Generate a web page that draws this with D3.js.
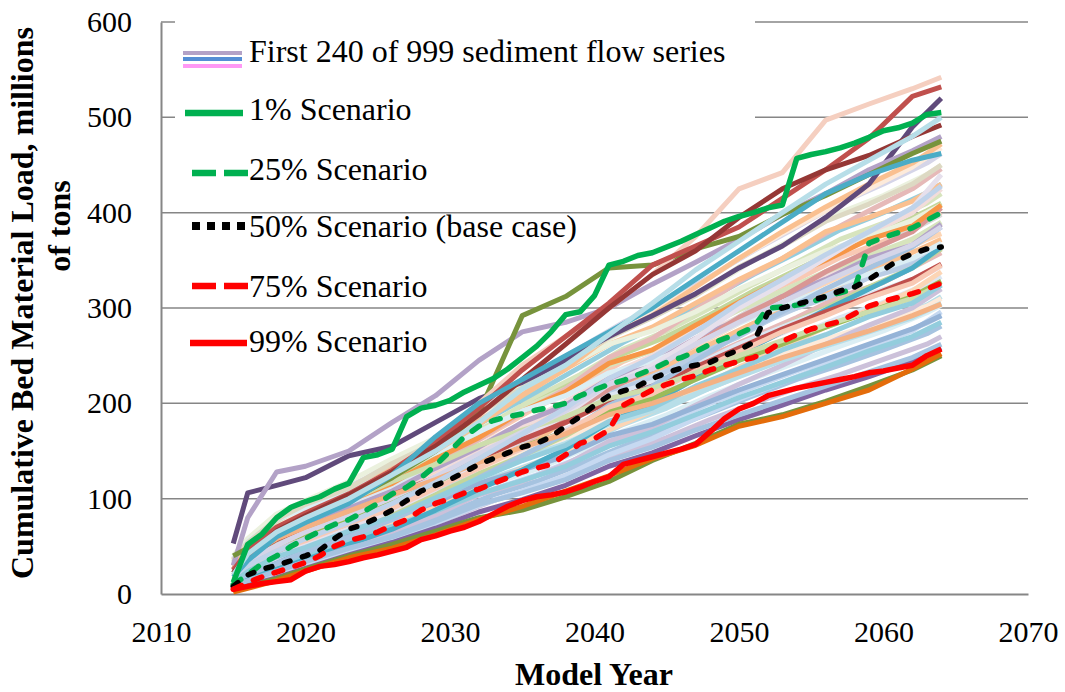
<!DOCTYPE html>
<html>
<head>
<meta charset="utf-8">
<script src="https://cdn.jsdelivr.net/npm/d3@7"></script>
<style>
  body { margin: 0; background: #fff; }
  svg { display: block; font-family: "Liberation Serif", "Times New Roman", serif; }
</style>
</head>
<body>
<svg id="chart"></svg>
<script>
// DATA
const xTicks = [2010, 2020, 2030, 2040, 2050, 2060, 2070];
const yTicks = [0, 100, 200, 300, 400, 500, 600];
const years = d3.range(2015, 2065);

const scenarioNames = ['1% Scenario', '25% Scenario', '50% Scenario (base case)', '75% Scenario', '99% Scenario'];
const flowLabel = 'First 240 of 999 sediment flow series';

// cumulative load, millions of tons, 2015..2064
const p1 = [12, 52, 63, 80, 91, 97, 102, 110, 116, 143, 146, 152, 186, 195, 198, 203, 212, 219, 226, 236,
  248, 260, 275, 293, 296, 313, 345, 349, 355, 358, 364, 370, 377, 384, 391, 396, 400, 405, 408, 457,
  461, 464, 468, 473, 479, 486, 489, 494, 503, 505];
const p25 = [10, 20, 32, 40, 50, 58, 66, 73, 78, 86, 95, 105, 112, 122, 135, 150, 165, 176, 182, 186,
  189, 193, 196, 200, 208, 214, 220, 224, 230, 236, 243, 248, 254, 262, 268, 273, 280, 300, 301, 303,
  306, 312, 316, 320, 368, 374, 379, 384, 392, 400];
const p50 = [8, 20, 26, 30, 35, 40, 46, 58, 68, 73, 80, 88, 98, 108, 114, 120, 128, 136, 142, 148,
  154, 158, 165, 176, 186, 198, 208, 213, 218, 226, 232, 237, 240, 243, 250, 256, 264, 295, 300, 304,
  308, 312, 318, 322, 330, 340, 350, 357, 362, 364];
const p75 = [5, 12, 18, 23, 28, 33, 40, 50, 56, 60, 65, 72, 78, 88, 95, 100, 106, 110, 116, 122,
  128, 132, 136, 146, 158, 163, 172, 198, 206, 214, 220, 225, 229, 235, 240, 244, 248, 255, 265, 272,
  278, 282, 286, 294, 302, 307, 311, 315, 320, 326];
const p99 = [5, 8, 11, 13, 15, 24, 29, 31, 34, 38, 41, 45, 49, 57, 61, 66, 70, 76, 84, 92,
  98, 102, 104, 107, 112, 118, 123, 136, 140, 144, 148, 152, 157, 170, 184, 194, 200, 208, 212, 216,
  219, 222, 225, 228, 232, 234, 237, 240, 250, 257];
const scenarios = [p1, p25, p50, p75, p99];

// background flow series, first group read at these years
const flowYearsA = [2015, 2016, 2018, 2020, 2023, 2026, 2029, 2032, 2035, 2038, 2041, 2044, 2047, 2050, 2053, 2056, 2059, 2062, 2064];
const flowSeriesA = [
  [22, 36, 50, 66, 80, 98, 122, 142, 168, 183, 212, 225, 250, 270, 295, 310, 332, 345, 366],
  [12, 19, 30, 44, 58, 75, 93, 114, 131, 150, 172, 192, 214, 238, 258, 280, 298, 318, 338],
  [34, 52, 72, 85, 103, 125, 146, 172, 195, 215, 240, 255, 275, 298, 318, 338, 355, 372, 390],
  [8, 14, 26, 34, 52, 66, 83, 104, 118, 136, 160, 175, 198, 220, 240, 262, 282, 300, 320],
  [26, 42, 58, 72, 90, 112, 136, 162, 190, 215, 248, 268, 298, 328, 352, 378, 402, 425, 446],
  [19, 30, 44, 56, 72, 88, 106, 126, 142, 158, 178, 192, 210, 228, 245, 260, 275, 290, 305],
  [36, 56, 80, 92, 110, 135, 158, 185, 212, 236, 262, 280, 305, 330, 352, 380, 395, 412, 430],
  [16, 24, 38, 50, 66, 84, 104, 126, 145, 166, 192, 210, 235, 258, 280, 300, 322, 342, 362],
  [5, 10, 18, 29, 43, 57, 74, 93, 108, 124, 146, 163, 184, 204, 222, 240, 258, 276, 296],
  [29, 46, 64, 76, 95, 113, 132, 152, 170, 186, 208, 222, 240, 262, 280, 298, 314, 330, 345],
  [22, 34, 52, 64, 82, 102, 124, 150, 175, 200, 230, 250, 276, 305, 330, 355, 378, 400, 425],
  [12, 20, 32, 41, 57, 71, 87, 105, 119, 134, 155, 170, 188, 206, 222, 238, 255, 270, 285],
  [40, 58, 84, 98, 118, 142, 164, 192, 218, 238, 262, 276, 296, 320, 340, 360, 375, 392, 408],
  [26, 39, 60, 70, 90, 108, 132, 154, 180, 198, 226, 242, 268, 288, 312, 330, 352, 366, 388],
  [19, 31, 45, 58, 74, 93, 114, 140, 162, 186, 215, 236, 262, 290, 312, 338, 360, 380, 405],
  [15, 26, 37, 50, 64, 80, 96, 116, 130, 145, 166, 178, 196, 214, 230, 246, 262, 278, 292],
  [32, 50, 70, 88, 104, 130, 155, 188, 215, 245, 275, 296, 322, 352, 378, 402, 425, 448, 468],
  [8, 15, 26, 36, 52, 68, 88, 110, 130, 152, 180, 200, 226, 252, 275, 298, 320, 342, 364],
  [30, 44, 66, 78, 98, 116, 142, 164, 192, 212, 242, 256, 282, 306, 330, 350, 372, 386, 408],
  [22, 35, 52, 63, 80, 97, 115, 136, 154, 170, 192, 205, 225, 245, 262, 280, 296, 312, 328],
  [4, 9, 17, 27, 41, 54, 69, 86, 99, 114, 134, 148, 166, 183, 198, 214, 228, 244, 258],
  [37, 55, 78, 90, 108, 128, 148, 170, 192, 208, 232, 244, 262, 284, 302, 320, 336, 352, 368],
  [15, 25, 38, 52, 68, 88, 110, 136, 162, 188, 220, 240, 268, 300, 325, 352, 380, 405, 440],
  [26, 40, 57, 70, 86, 104, 122, 142, 162, 180, 202, 218, 238, 258, 278, 296, 312, 330, 346],
  [12, 21, 32, 44, 60, 78, 98, 122, 145, 168, 198, 218, 245, 272, 296, 320, 342, 364, 385],
  [20, 29, 46, 56, 74, 90, 111, 132, 153, 170, 196, 210, 234, 254, 275, 292, 311, 326, 345],
  [33, 50, 70, 82, 98, 118, 136, 156, 172, 186, 205, 216, 232, 250, 266, 282, 296, 310, 325],
  [9, 14, 24, 34, 48, 60, 76, 94, 106, 120, 140, 154, 172, 188, 203, 218, 233, 248, 262],
  [29, 46, 64, 80, 100, 124, 150, 178, 208, 236, 270, 292, 322, 352, 380, 406, 430, 452, 472],
  [23, 35, 51, 65, 82, 101, 123, 147, 170, 192, 220, 236, 262, 285, 306, 328, 348, 366, 385],
  [15, 24, 39, 49, 66, 81, 101, 121, 140, 156, 181, 195, 218, 236, 256, 272, 291, 305, 324],
  [36, 54, 78, 94, 111, 137, 159, 190, 216, 242, 269, 290, 313, 343, 365, 391, 409, 430, 450],
  [26, 41, 58, 70, 87, 104, 120, 138, 154, 168, 188, 200, 216, 232, 248, 262, 276, 292, 304],
  [19, 30, 45, 58, 75, 95, 117, 142, 168, 195, 226, 248, 275, 305, 330, 356, 380, 405, 428],
  [53, 106, 114, 122, 145, 155, 180, 205, 222, 245, 270, 292, 315, 342, 365, 395, 430, 490, 520],
  [30, 80, 128, 134, 150, 180, 208, 245, 275, 285, 300, 325, 348, 372, 398, 420, 445, 465, 480],
  [40, 48, 62, 78, 98, 122, 150, 190, 292, 312, 342, 345, 362, 375, 398, 418, 440, 462, 475],
  [20, 40, 62, 76, 100, 130, 162, 200, 240, 270, 300, 335, 375, 425, 442, 497, 514, 530, 542],
  [25, 45, 70, 85, 105, 130, 160, 195, 235, 270, 305, 345, 365, 385, 415, 445, 478, 522, 532],
  [22, 40, 66, 82, 104, 128, 155, 188, 225, 262, 300, 335, 360, 395, 425, 445, 460, 480, 492],
  [3, 8, 16, 26, 40, 52, 66, 80, 88, 102, 118, 140, 158, 178, 188, 202, 218, 235, 250],
  [2, 6, 14, 24, 38, 48, 62, 78, 92, 108, 124, 142, 156, 176, 186, 200, 214, 236, 252],
  [18, 35, 60, 75, 95, 125, 165, 200, 225, 250, 275, 300, 330, 360, 390, 420, 440, 455, 462],
  [20, 42, 65, 80, 100, 125, 150, 180, 215, 240, 272, 305, 340, 370, 400, 430, 455, 480, 500]
];

// second group, read at offset years
const flowYearsB = [2015, 2017, 2019, 2021, 2024, 2027, 2030, 2033, 2036, 2039, 2042, 2045, 2048, 2051, 2054, 2057, 2060, 2063, 2064];
const flowSeriesB = [
  [17, 35, 47, 58, 75, 93, 112, 134, 152, 172, 193, 212, 233, 253, 271, 290, 306, 325, 333],
  [24, 45, 62, 73, 92, 112, 135, 160, 180, 210, 230, 245, 268, 292, 312, 333, 350, 372, 378],
  [10, 22, 33, 43, 58, 74, 92, 110, 125, 143, 163, 180, 200, 217, 234, 250, 266, 284, 292],
  [31, 58, 75, 87, 106, 131, 152, 180, 207, 230, 257, 276, 300, 325, 348, 372, 389, 410, 420],
  [20, 40, 55, 65, 83, 102, 124, 147, 165, 187, 210, 226, 250, 270, 290, 312, 327, 350, 358],
  [14, 28, 40, 50, 66, 83, 102, 122, 138, 156, 178, 195, 216, 235, 252, 270, 286, 303, 312],
  [28, 52, 70, 80, 100, 122, 146, 170, 196, 218, 244, 262, 285, 310, 330, 353, 370, 392, 400],
  [6, 17, 26, 36, 50, 65, 80, 98, 112, 130, 148, 164, 183, 200, 216, 230, 246, 262, 270],
  [34, 64, 82, 98, 118, 142, 168, 196, 224, 250, 276, 298, 322, 350, 375, 400, 418, 440, 450],
  [22, 42, 58, 70, 88, 106, 128, 152, 172, 194, 216, 236, 258, 280, 300, 320, 338, 356, 365],
  [15, 32, 45, 55, 72, 92, 118, 140, 160, 196, 222, 240, 262, 284, 305, 325, 345, 365, 372],
  [12, 26, 37, 48, 63, 79, 96, 116, 131, 150, 171, 188, 208, 226, 243, 260, 276, 295, 303],
  [30, 55, 73, 84, 104, 126, 150, 175, 202, 225, 252, 270, 293, 318, 340, 362, 380, 402, 410],
  [19, 38, 52, 62, 79, 97, 118, 140, 158, 180, 200, 218, 240, 261, 280, 300, 316, 336, 344],
  [26, 48, 65, 76, 95, 116, 138, 164, 186, 210, 234, 252, 276, 298, 320, 340, 358, 380, 388],
  [8, 20, 30, 40, 54, 70, 86, 104, 118, 136, 155, 172, 190, 208, 225, 240, 256, 273, 281],
  [37, 67, 85, 100, 120, 146, 172, 202, 232, 258, 285, 306, 333, 360, 385, 410, 430, 452, 462],
  [22, 40, 56, 66, 82, 98, 116, 136, 152, 170, 188, 202, 222, 240, 256, 272, 286, 302, 310],
  [33, 60, 79, 92, 112, 134, 160, 187, 212, 238, 264, 286, 310, 335, 358, 382, 400, 421, 430],
  [17, 35, 48, 58, 75, 95, 118, 144, 168, 194, 224, 245, 272, 300, 322, 346, 366, 390, 398]
];

// STYLES
const flowColorsA = ['#B9CDE5', '#FCD5B5', '#D7E4BD', '#CCC1DA', '#E6B9B8', '#B7DEE8', '#FAC090', '#C3D69B',
  '#C6D9F1', '#DCE6F2', '#F2DCDB', '#93CDDD', '#EBF1DE', '#B3A2C7', '#D99694', '#95B3D7', '#FDEADA',
  '#4BACC6', '#F79646', '#9BBB59', '#8064A2', '#DBEEF4', '#E6E0EC', '#C0504D', '#A6C3E0', '#F9C9B4',
  '#CDDDAC', '#A6C3E0', '#FAC090', '#D5D5E8', '#93CDDD', '#DDD9C3', '#F4B183', '#BFD3EA',
  '#604A7B', '#B3A2C7', '#77933C', '#F5CFC0', '#C0504D', '#953735', '#77933C', '#E46C0A', '#4BACC6', '#B7DEE8'];
const flowColorsB = ['#DCE6F2', '#FCD5B5', '#C6D9F1', '#D7E4BD', '#E6B9B8', '#B7DEE8', '#F9C9B4', '#CCC1DA',
  '#EBF1DE', '#BFD3EA', '#FAC090', '#DBEEF4', '#C3D69B', '#E6E0EC', '#F2DCDB', '#A6C3E0', '#D5D5E8',
  '#FDEADA', '#93CDDD', '#D9D9D9'];
const scenarioStyles = [
  { color: '#00B050', dash: null, legendDash: null },
  { color: '#00B050', dash: '9,13', legendDash: '24,8' },
  { color: '#000000', dash: '6,13', legendDash: '8,7' },
  { color: '#FF0000', dash: '9,13', legendDash: '24,8' },
  { color: '#FF0000', dash: null, legendDash: null }
];

const width = 1065;
const height = 692;
const gridColor = '#868686';

const svg = d3.select('#chart').attr('width', width).attr('height', height);

const x = d3.scaleLinear().domain([2010, 2070]).range([161, 1028]);
const y = d3.scaleLinear().domain([0, 600]).range([594, 22]);

// gridlines
svg.append('g')
  .selectAll('line')
  .data(yTicks.filter(d => d > 0))
  .join('line')
    .attr('x1', x(2010))
    .attr('x2', x(2070))
    .attr('y1', d => y(d))
    .attr('y2', d => y(d))
    .attr('stroke', gridColor)
    .attr('stroke-width', 1.5);

// legend background hides the upper gridlines
svg.append('rect')
  .attr('x', 175).attr('y', 8)
  .attr('width', 580).attr('height', 142)
  .attr('fill', '#fff');

// axes
const xAxis = svg.append('g')
  .attr('transform', `translate(0,${y(0)})`)
  .call(d3.axisBottom(x).tickValues(xTicks).tickFormat(d3.format('d')).tickSize(0).tickSizeOuter(0).tickPadding(27));
const yAxis = svg.append('g')
  .attr('transform', `translate(${x(2010)},0)`)
  .call(d3.axisLeft(y).tickValues(yTicks).tickSize(0).tickSizeOuter(0).tickPadding(29));
[xAxis, yAxis].forEach(g => {
  g.select('.domain').attr('stroke', gridColor).attr('stroke-width', 2);
  g.selectAll('text')
    .attr('fill', '#000')
    .style('font-family', '"Liberation Serif", serif')
    .style('font-size', '30px');
});

const line = d3.line().x(d => x(d[0])).y(d => y(d[1]));

// background flow series
const drawFlows = (series, flowYears, colors) => {
  svg.append('g')
    .selectAll('path')
    .data(series)
    .join('path')
      .attr('d', s => line(s.map((v, i) => [flowYears[i], v])))
      .attr('fill', 'none')
      .attr('stroke', (s, i) => colors[i])
      .attr('stroke-width', 5)
      .attr('stroke-linejoin', 'round');
};
drawFlows(flowSeriesB, flowYearsB, flowColorsB);
drawFlows(flowSeriesA, flowYearsA, flowColorsA);

// scenario lines
svg.append('g')
  .selectAll('path')
  .data(scenarios)
  .join('path')
    .attr('d', s => line(s.map((v, i) => [years[i], v])))
    .attr('fill', 'none')
    .attr('stroke', (s, i) => scenarioStyles[i].color)
    .attr('stroke-width', 5.5)
    .attr('stroke-linejoin', 'round')
    .attr('stroke-linecap', (s, i) => scenarioStyles[i].dash ? 'round' : 'butt')
    .attr('stroke-dasharray', (s, i) => scenarioStyles[i].dash);

// LEGEND
const legendRows = [62, 120, 180, 237, 297, 352];
const legend = svg.append('g');
[['#B3A2C7', 53], ['#558ED5', 59], ['#FF99F5', 66]].forEach(([c, ly]) => {
  legend.append('line')
    .attr('x1', 183).attr('x2', 242).attr('y1', ly).attr('y2', ly)
    .attr('stroke', c).attr('stroke-width', 4);
});
const swatchY = [113, 173, 226, 286, 343];
const swatchX = [[185, 243], [192, 248], [192, 246], [192, 248], [190, 247]];
scenarioStyles.forEach((st, i) => {
  legend.append('line')
    .attr('x1', swatchX[i][0]).attr('x2', swatchX[i][1])
    .attr('y1', swatchY[i]).attr('y2', swatchY[i])
    .attr('stroke', st.color)
    .attr('stroke-width', i === 2 ? 8 : 6.5)
    .attr('stroke-dasharray', st.legendDash);
});
legend.selectAll('text')
  .data([flowLabel, ...scenarioNames])
  .join('text')
    .attr('x', 249)
    .attr('y', (d, i) => legendRows[i])
    .style('font-size', '32px')
    .text(d => d);

// axis titles
svg.append('text')
  .attr('x', 594).attr('y', 685)
  .attr('text-anchor', 'middle')
  .style('font-size', '32px')
  .style('font-weight', 'bold')
  .text('Model Year');
svg.append('text')
  .attr('transform', 'translate(33,303) rotate(-90)')
  .attr('text-anchor', 'middle')
  .style('font-size', '32px')
  .style('font-weight', 'bold')
  .text('Cumulative Bed Material Load, millions');
svg.append('text')
  .attr('transform', 'translate(70,226) rotate(-90)')
  .attr('text-anchor', 'middle')
  .style('font-size', '32px')
  .style('font-weight', 'bold')
  .text('of tons');
</script>
</body>
</html>
